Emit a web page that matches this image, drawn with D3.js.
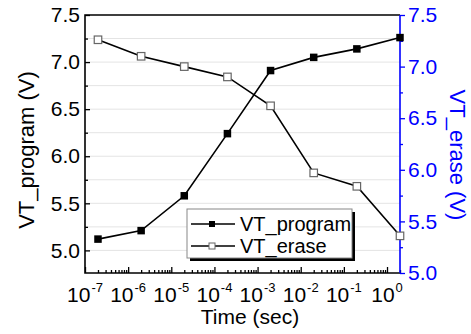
<!DOCTYPE html>
<html>
<head>
<meta charset="utf-8">
<script src="https://cdn.jsdelivr.net/npm/d3@7"></script>
<style>
  body { margin: 0; background: #fff; }
  svg { display: block; font-family: "Liberation Sans", Arial, sans-serif; }
</style>
</head>
<body>
<svg id="chart"></svg>
<script>
// data
const times = [2e-7, 2e-6, 2e-5, 2e-4, 2e-3, 2e-2, 2e-1, 2e0];
const vtProgram = [5.12, 5.21, 5.58, 6.24, 6.91, 7.05, 7.14, 7.26];
const vtErase = [7.26, 7.10, 7.00, 6.90, 6.62, 5.97, 5.84, 5.36];
const xExponents = [-7, -6, -5, -4, -3, -2, -1, 0];
const leftTicks = [5.0, 5.5, 6.0, 6.5, 7.0, 7.5];
const rightTicks = [5.0, 5.5, 6.0, 6.5, 7.0, 7.5];
const seriesNames = ["VT_program", "VT_erase"];

const w = 471, h = 334;
const plotL = 85, plotR = 400, plotT = 15, plotB = 273;
const blue = "#0000ff";

const svg = d3.select("#chart").attr("width", w).attr("height", h);

const x = d3.scaleLog().domain([1e-7, 2]).range([plotL, plotR]);
const yL = d3.scaleLinear().domain([4.76, 7.5]).range([plotB, plotT]);
const yR = d3.scaleLinear().domain([5.0, 7.5]).range([plotB, plotT]);

// grid lines at left major + minor ticks
const gridVals = d3.range(5.0, 7.5, 0.25);
svg.append("g").selectAll("line")
  .data(gridVals)
  .enter().append("line")
  .attr("x1", plotL).attr("x2", plotR)
  .attr("y1", d => yL(d)).attr("y2", d => yL(d))
  .attr("stroke", "#e4e4e4").attr("stroke-width", 1);

// bottom axis: minor then major ticks (inward)
const minorX = [];
for (let e = -7; e <= 0; e++) {
  for (let m = 2; m <= 9; m++) {
    const v = m * Math.pow(10, e);
    if (v <= 2) minorX.push(v);
  }
}
svg.append("g")
  .attr("transform", `translate(0,${plotB})`)
  .call(d3.axisBottom(x).tickValues(minorX).tickSize(-3).tickFormat(""))
  .call(g => g.select(".domain").remove())
  .selectAll("line").attr("stroke", "#000").attr("stroke-width", 1.3);
svg.append("g")
  .attr("transform", `translate(0,${plotB})`)
  .call(d3.axisBottom(x).tickValues(xExponents.map(e => Math.pow(10, e))).tickSize(-6).tickFormat(""))
  .call(g => g.select(".domain").remove())
  .selectAll("line").attr("stroke", "#000").attr("stroke-width", 1.3);

// x tick labels 10^n
const xl = svg.append("g").selectAll("text")
  .data(xExponents)
  .enter().append("text")
  .attr("x", d => x(Math.pow(10, d)))
  .attr("y", 302)
  .attr("text-anchor", "middle")
  .attr("font-size", 21)
  .attr("fill", "#000");
xl.append("tspan").text("10");
xl.append("tspan").attr("dx", 1).attr("dy", -10).attr("font-size", 13).text(d => d === 0 ? "0" : "-" + Math.abs(d));

// left axis
const leftMinor = [5.25, 5.75, 6.25, 6.75, 7.25];
svg.append("g")
  .attr("transform", `translate(${plotL},0)`)
  .call(d3.axisLeft(yL).tickValues(leftMinor).tickSize(-3).tickFormat(""))
  .call(g => g.select(".domain").remove())
  .selectAll("line").attr("stroke", "#000").attr("stroke-width", 1.3);
const yAxisL = svg.append("g")
  .attr("transform", `translate(${plotL},0)`)
  .call(d3.axisLeft(yL).tickValues(leftTicks).tickSize(-5).tickPadding(5).tickFormat(d3.format(".1f")));
yAxisL.select(".domain").remove();
yAxisL.selectAll("line").attr("stroke", "#000").attr("stroke-width", 1.3);
yAxisL.attr("font-family", null).selectAll("text").attr("font-size", 21).attr("fill", "#000");

// right axis (blue, outward ticks)
const rightMinor = [5.25, 5.75, 6.25, 6.75, 7.25];
svg.append("g")
  .attr("transform", `translate(${plotR},0)`)
  .call(d3.axisRight(yR).tickValues(rightMinor).tickSize(3).tickFormat(""))
  .call(g => g.select(".domain").remove())
  .selectAll("line").attr("stroke", blue).attr("stroke-width", 1.3);
const yAxisR = svg.append("g")
  .attr("transform", `translate(${plotR},0)`)
  .call(d3.axisRight(yR).tickValues(rightTicks).tickSize(5).tickPadding(3).tickFormat(d3.format(".1f")));
yAxisR.select(".domain").remove();
yAxisR.selectAll("line").attr("stroke", blue).attr("stroke-width", 1.3);
yAxisR.attr("font-family", null).selectAll("text").attr("font-size", 21).attr("fill", blue);

// frame
svg.append("path")
  .attr("d", `M${plotR},${plotT}H${plotL}V${plotB}H${plotR}`)
  .attr("fill", "none").attr("stroke", "#000").attr("stroke-width", 1.6);
svg.append("line")
  .attr("x1", plotR).attr("x2", plotR).attr("y1", plotT).attr("y2", plotB)
  .attr("stroke", blue).attr("stroke-width", 1.6);

// series lines
const progLine = d3.line().x((d, i) => x(times[i])).y(d => yL(d));
const eraseLine = d3.line().x((d, i) => x(times[i])).y(d => yR(d));
svg.append("path").datum(vtProgram).attr("d", progLine)
  .attr("fill", "none").attr("stroke", "#000").attr("stroke-width", 1.6);
svg.append("path").datum(vtErase).attr("d", eraseLine)
  .attr("fill", "none").attr("stroke", "#000").attr("stroke-width", 1.6);

// markers
const ms = 7.5;
svg.append("g").selectAll("rect")
  .data(vtErase)
  .enter().append("rect")
  .attr("x", (d, i) => x(times[i]) - ms / 2)
  .attr("y", d => yR(d) - ms / 2)
  .attr("width", ms).attr("height", ms)
  .attr("fill", "#fff").attr("stroke", "#666").attr("stroke-width", 1.2);
svg.append("g").selectAll("rect")
  .data(vtProgram)
  .enter().append("rect")
  .attr("x", (d, i) => x(times[i]) - ms / 2)
  .attr("y", d => yL(d) - ms / 2)
  .attr("width", ms).attr("height", ms)
  .attr("fill", "#000");

// legend
const lg = svg.append("g").attr("transform", "translate(187,209)");
lg.append("rect").attr("x", 3).attr("y", 3).attr("width", 165).attr("height", 49).attr("fill", "#000");
lg.append("rect").attr("x", 0).attr("y", 0).attr("width", 165).attr("height", 49)
  .attr("fill", "#fff").attr("stroke", "#888").attr("stroke-width", 1);
const rows = lg.selectAll("g.row")
  .data(seriesNames)
  .enter().append("g")
  .attr("class", "row")
  .attr("transform", (d, i) => `translate(0,${15 + i * 22})`);
rows.append("line").attr("x1", 4).attr("x2", 48).attr("y1", 0).attr("y2", 0)
  .attr("stroke", "#000").attr("stroke-width", 1.6);
rows.append("rect").attr("x", 22).attr("y", -3).attr("width", 6).attr("height", 6)
  .attr("fill", (d, i) => i === 0 ? "#000" : "#fff")
  .attr("stroke", (d, i) => i === 0 ? "none" : "#666");
rows.append("text").attr("x", 53).attr("y", 7)
  .attr("font-size", 20).attr("fill", "#000").text(d => d);

// axis titles
svg.append("text")
  .attr("x", 250).attr("y", 324).attr("text-anchor", "middle")
  .attr("font-size", 21).text("Time (sec)");
svg.append("text")
  .attr("transform", "translate(34,150) rotate(-90)")
  .attr("text-anchor", "middle").attr("font-size", 22).text("VT_program (V)");
svg.append("text")
  .attr("transform", "translate(450,155) rotate(90)")
  .attr("text-anchor", "middle").attr("font-size", 22).attr("fill", blue).text("VT_erase (V)");
</script>
</body>
</html>
